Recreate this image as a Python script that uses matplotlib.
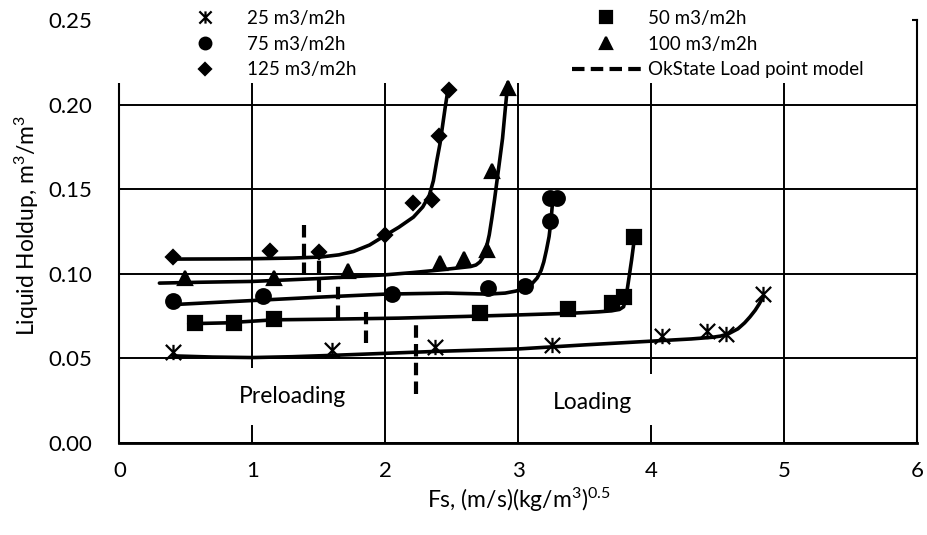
import numpy as np
import matplotlib
matplotlib.use('Agg')
import matplotlib.pyplot as plt
from matplotlib.path import Path
from matplotlib.patches import Rectangle

plt.rcParams['font.family'] = ['Lato', 'DejaVu Sans']
plt.rcParams['mathtext.fontset'] = 'custom'
plt.rcParams['mathtext.rm'] = 'Lato'
plt.rcParams['mathtext.default'] = 'regular'

# measured points (Fs, holdup)
x25 = [0.40, 1.60, 2.37, 3.25, 4.08, 4.42, 4.56, 4.84]
y25 = [0.054, 0.055, 0.057, 0.058, 0.063, 0.066, 0.0645, 0.088]
x50 = [0.57, 0.86, 1.16, 2.71, 3.37, 3.70, 3.79, 3.87]
y50 = [0.071, 0.071, 0.073, 0.077, 0.079, 0.083, 0.086, 0.122]
x75 = [0.40, 1.08, 2.05, 2.77, 3.05, 3.24, 3.24, 3.29]
y75 = [0.084, 0.087, 0.088, 0.0915, 0.093, 0.131, 0.145, 0.145]
x100 = [0.49, 1.16, 1.72, 2.41, 2.59, 2.76, 2.80, 2.92]
y100 = [0.0975, 0.0975, 0.1014, 0.1063, 0.1089, 0.114, 0.1605, 0.210]
x125 = [0.40, 1.13, 1.50, 2.00, 2.21, 2.35, 2.40, 2.48]
y125 = [0.110, 0.1132, 0.1126, 0.1231, 0.1418, 0.1438, 0.1817, 0.2089]

# trend lines
fit25_x = [0.40, 0.70, 1.00, 1.30, 1.60, 2.00, 2.40, 3.00, 3.50, 4.00, 4.30, 4.46, 4.52, 4.58, 4.65,
           4.70, 4.74, 4.78, 4.81, 4.84]
fit25_y = [0.0515, 0.0508, 0.0505, 0.0510, 0.0518, 0.0530, 0.0542, 0.0556, 0.0580, 0.0602, 0.0615,
           0.0625, 0.0632, 0.0646, 0.0675, 0.0710, 0.0745, 0.0785, 0.0822, 0.0865]
fit50_x = [0.52, 0.80, 1.16, 1.60, 2.10, 2.60, 3.00, 3.40, 3.60, 3.70, 3.76, 3.79, 3.805, 3.82, 3.835,
           3.85, 3.86, 3.87]
fit50_y = [0.0705, 0.0710, 0.0728, 0.0732, 0.0738, 0.0748, 0.0757, 0.0767, 0.0775, 0.0781, 0.0790,
           0.0805, 0.0850, 0.0920, 0.1000, 0.1080, 0.1140, 0.1200]
fit75_x = [0.38, 0.70, 1.00, 1.50, 2.00, 2.46, 2.77, 2.90, 2.98, 3.05, 3.10, 3.14, 3.17, 3.19, 3.21,
           3.23, 3.245, 3.26]
fit75_y = [0.0817, 0.0830, 0.0842, 0.0862, 0.0880, 0.0886, 0.0880, 0.0886, 0.0898, 0.0915, 0.0940,
           0.0975, 0.1020, 0.1070, 0.1140, 0.1220, 0.1320, 0.1460]
fit100_x = [0.30, 0.60, 1.00, 1.50, 2.00, 2.20, 2.40, 2.55, 2.64, 2.68, 2.71, 2.735, 2.76, 2.78, 2.80,
            2.82, 2.84, 2.86, 2.88, 2.90, 2.92]
fit100_y = [0.0945, 0.0950, 0.0955, 0.0972, 0.0994, 0.1007, 0.1022, 0.1035, 0.1043, 0.1052, 0.1070,
            0.1100, 0.1160, 0.1230, 0.1330, 0.1440, 0.1560, 0.1680, 0.1800, 0.1970, 0.2130]
fit125_x = [0.42, 0.80, 1.00, 1.30, 1.51, 1.65, 1.76, 1.88, 2.00, 2.10, 2.21, 2.28, 2.33, 2.36, 2.385,
            2.41, 2.43, 2.45, 2.47]
fit125_y = [0.1087, 0.1088, 0.1089, 0.1093, 0.1099, 0.1112, 0.1132, 0.1170, 0.1228, 0.1275, 0.1335,
            0.1395, 0.1465, 0.1550, 0.1665, 0.1770, 0.1880, 0.1990, 0.2090]

# OkState load point model segments
load_x = [1.39, 1.50, 1.64, 1.85, 2.23]
load_top = [0.129, 0.114, 0.0935, 0.0777, 0.0704]
load_bot = [0.099, 0.0895, 0.074, 0.059, 0.029]

labels = ['25 m3/m2h', '50 m3/m2h', '75 m3/m2h', '100 m3/m2h', '125 m3/m2h']
model_label = 'OkState Load point model'
x_ticks = [0, 1, 2, 3, 4, 5, 6]
y_ticks = [0.00, 0.05, 0.10, 0.15, 0.20, 0.25]

star = Path([(-1, -1), (1, 1), (-1, 1), (1, -1), (0, -1), (0, 1)],
            [Path.MOVETO, Path.LINETO] * 3)

fig = plt.figure(figsize=(9.28, 5.35), dpi=100)
ax = fig.add_axes([119.5 / 928, 92 / 535, 798 / 928, 423 / 535])

xs = [x25, x50, x75, x100, x125]
ys = [y25, y50, y75, y100, y125]
fx = [fit25_x, fit50_x, fit75_x, fit100_x, fit125_x]
fy = [fit25_y, fit50_y, fit75_y, fit100_y, fit125_y]
markers = [star, 's', 'o', '^', 'D']
msizes = [11, 10, 10.5, 10.5, 7.5]

handles = []
for i in range(5):
    ax.plot(fx[i], fy[i], color='black', lw=2.6, zorder=4,
            solid_capstyle='round', solid_joinstyle='round')
    h, = ax.plot(xs[i], ys[i], linestyle='none', marker=markers[i], ms=msizes[i],
                 color='black', mew=1.6, zorder=5, label=labels[i])
    handles.append(h)

vl = ax.vlines(load_x, load_bot, load_top, colors='black', linewidth=3,
               linestyles=(0, (3, 1.5)), zorder=4, label=model_label)

ax.set_xlim(0, 6)
ax.set_ylim(0, 0.25)
ax.set_xticks(x_ticks)
ax.set_yticks(y_ticks)
ax.set_yticklabels(['%.2f' % v for v in y_ticks])
ax.tick_params(axis='both', length=0, labelsize=16)
ax.tick_params(axis='x', pad=13)
ax.tick_params(axis='y', pad=19.5)

ax.set_axisbelow(True)
ax.grid(True, color='black', linewidth=1.4)
for s in ['left', 'right', 'top']:
    ax.spines[s].set_linewidth(1.5)
ax.spines['bottom'].set_linewidth(2)

# white boxes behind the region labels
ax.add_patch(Rectangle((0.79, 0.0107), 1.06, 0.0337, facecolor='white', edgecolor='none', zorder=1))
ax.add_patch(Rectangle((3.15, 0.0107), 0.91, 0.0301, facecolor='white', edgecolor='none', zorder=1))
ax.text(1.30, 0.0272, 'Preloading', fontsize=16.5, ha='center', va='center', zorder=2)
ax.text(3.56, 0.0237, 'Loading', fontsize=16.5, ha='center', va='center', zorder=2)

ax.set_xlabel('Fs, (m/s)(kg/m$^{3}$)$^{0.5}$', fontsize=16.5, va='center')
ax.xaxis.set_label_coords(0.5006, -0.135)
ax.set_ylabel('Liquid Holdup, m$^{3}$/m$^{3}$', fontsize=16.5, va='center')
ax.yaxis.set_label_coords(-0.116, 0.513)

# legend area covers the top of the plot
ax.add_patch(Rectangle((-0.025, 0.851), 1.018, 0.3, transform=ax.transAxes, clip_on=False,
                       facecolor='white', edgecolor='none', zorder=3))

leg_kw = dict(loc='upper left', frameon=False, fontsize=13.5, borderpad=0, borderaxespad=0,
              handlelength=3.68, handletextpad=0.4, labelspacing=0.46, markerscale=0.8,
              bbox_transform=fig.transFigure)
leg1 = ax.legend([handles[0], handles[2], handles[4]], [labels[0], labels[2], labels[4]],
                 bbox_to_anchor=(170.5 / 928, 1 - 10 / 535), **leg_kw)
leg1.set_zorder(6)
ax.add_artist(leg1)
leg2 = ax.legend([handles[1], handles[3], vl], [labels[1], labels[3], model_label],
                 bbox_to_anchor=(571.5 / 928, 1 - 10 / 535), **leg_kw)
leg2.set_zorder(6)

plt.savefig('out.png', dpi=100)
